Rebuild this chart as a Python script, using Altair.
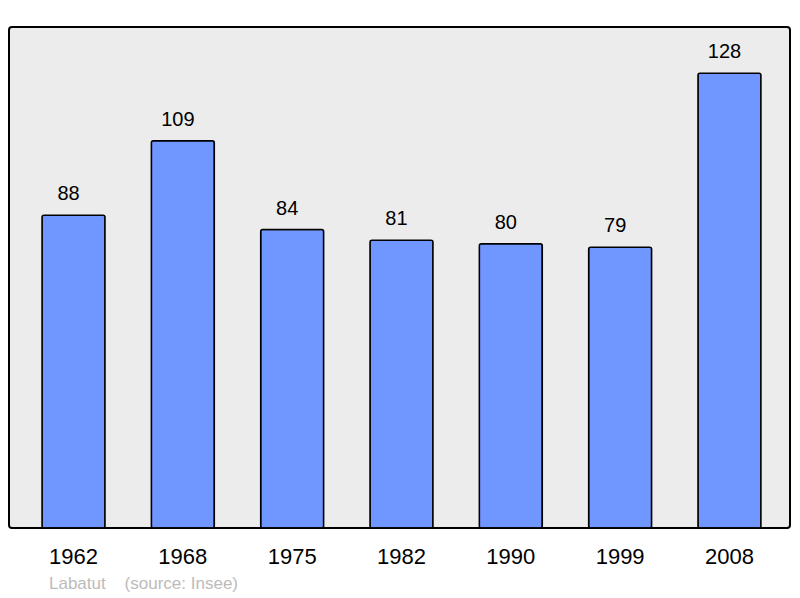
import altair as alt
import pandas as pd

years = ["1962", "1968", "1975", "1982", "1990", "1999", "2008"]
population = [88, 109, 84, 81, 80, 79, 128]
footer = "Labatut\u00a0\u00a0\u00a0\u00a0(source: Insee)"

df = pd.DataFrame({"year": years, "pop": population})

base = alt.Chart(df).encode(
    x=alt.X(
        "year:N",
        sort=years,
        title=None,
        scale=alt.Scale(paddingInner=0.424, paddingOuter=0.284, align=0.532),
        axis=alt.Axis(
            domain=False, ticks=False, labelAngle=0, labelFontSize=22,
            labelColor="#000000", labelPadding=18, labelFont="Liberation Sans",
        ),
    ),
    y=alt.Y("pop:Q", title=None, scale=alt.Scale(domain=[0, 141], nice=False), axis=None),
)

bars = base.mark_bar(
    color="#7096ff", stroke="#000000", strokeWidth=1.5, cornerRadius=2
)

# value labels sit a little left of the bar centre in the original
labels = base.mark_text(
    baseline="alphabetic", dy=-15, dx=-5, fontSize=20, font="Liberation Sans", color="#000000"
).encode(text="pop:Q")

note = alt.Chart(pd.DataFrame({"t": [footer]})).mark_text(
    align="left", baseline="alphabetic", fontSize=17, font="Liberation Sans", color="#bbbbbb"
).encode(x=alt.value(40), y=alt.value(562), text="t:N")

chart = (
    alt.layer(bars, labels, note)
    .properties(
        width=781, height=501,
        autosize=alt.AutoSizeParams(type="none"),
        padding={"left": 1, "top": 19, "right": 2, "bottom": 70},
        background="#ffffff",
    )
    .configure_view(fill="#ececec", stroke="#000000", strokeWidth=2, cornerRadius=3)
)

chart.save("out.html", embed_options={"renderer": "svg", "actions": False})
